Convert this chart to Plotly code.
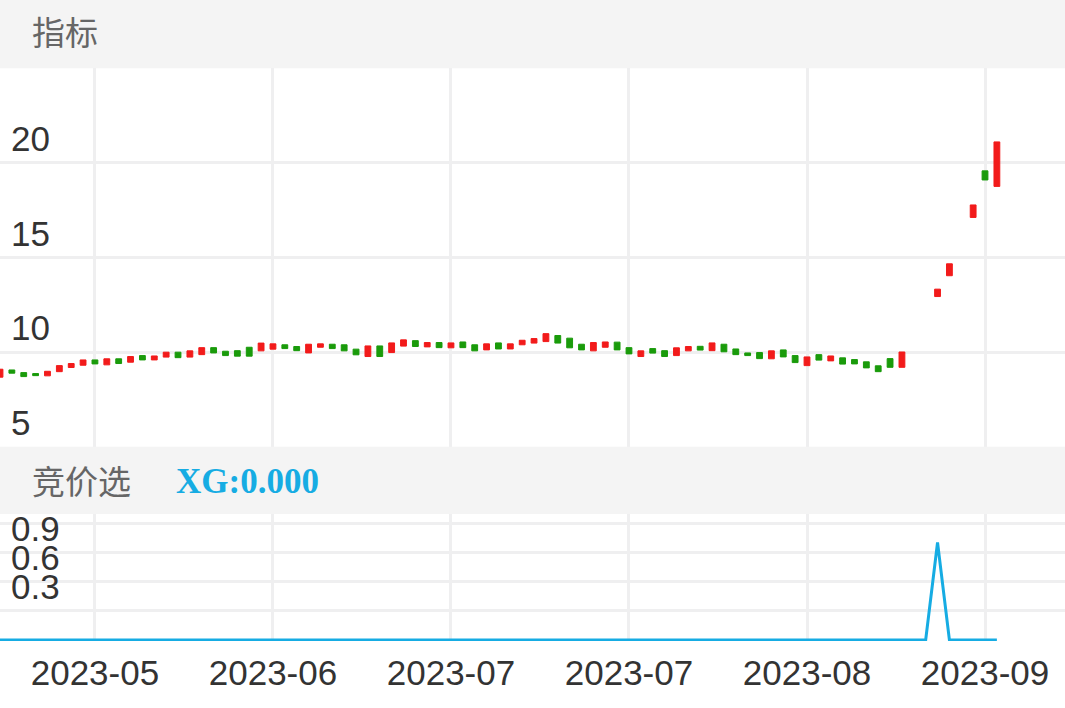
import plotly.graph_objects as go

# ---------------- data ----------------
dates = [
    "2023-05-08", "2023-05-09", "2023-05-10", "2023-05-11", "2023-05-12",
    "2023-05-15", "2023-05-16", "2023-05-17", "2023-05-18", "2023-05-19",
    "2023-05-22", "2023-05-23", "2023-05-24", "2023-05-25", "2023-05-26",
    "2023-05-29", "2023-05-30", "2023-05-31", "2023-06-01", "2023-06-02",
    "2023-06-05", "2023-06-06", "2023-06-07", "2023-06-08", "2023-06-09",
    "2023-06-12", "2023-06-13", "2023-06-14", "2023-06-15", "2023-06-16",
    "2023-06-19", "2023-06-20", "2023-06-21", "2023-06-26", "2023-06-27",
    "2023-06-28", "2023-06-29", "2023-06-30", "2023-07-03", "2023-07-04",
    "2023-07-05", "2023-07-06", "2023-07-07", "2023-07-10", "2023-07-11",
    "2023-07-12", "2023-07-13", "2023-07-14", "2023-07-17", "2023-07-18",
    "2023-07-19", "2023-07-20", "2023-07-21", "2023-07-24", "2023-07-25",
    "2023-07-26", "2023-07-27", "2023-07-28", "2023-07-31", "2023-08-01",
    "2023-08-02", "2023-08-03", "2023-08-04", "2023-08-07", "2023-08-08",
    "2023-08-09", "2023-08-10", "2023-08-11", "2023-08-14", "2023-08-15",
    "2023-08-16", "2023-08-17", "2023-08-18", "2023-08-21", "2023-08-22",
    "2023-08-23", "2023-08-24", "2023-08-25", "2023-08-28", "2023-08-29",
    "2023-08-30", "2023-08-31", "2023-09-01", "2023-09-04", "2023-09-05",
]

open_price = [
    8.68, 9.06, 8.92, 8.87, 8.75, 8.97, 9.19, 9.31, 9.59, 9.33,
    9.65, 9.47, 9.82, 9.59, 9.74, 10.00, 9.74, 9.87, 10.24, 10.05,
    10.08, 10.26, 10.07, 10.16, 10.39, 10.30, 9.96, 10.26, 10.42, 10.39,
    10.16, 9.77, 10.33, 9.98, 10.32, 10.61, 10.28, 10.51, 10.23, 10.54,
    10.39, 10.12, 10.49, 10.17, 10.39, 10.48, 10.56, 10.88, 10.74, 10.42,
    10.07, 10.26, 10.53, 10.24, 9.77, 10.19, 10.08, 9.82, 10.07, 10.31,
    10.08, 10.42, 10.17, 9.96, 9.98, 9.65, 10.12, 9.82, 9.29, 9.87,
    9.54, 9.70, 9.61, 9.49, 9.28, 9.66, 9.20, None, None, 12.94,
    14.04, None, 17.12, 19.58, 18.76,
]

close_price = [
    9.10, 8.89, 8.71, 8.76, 8.99, 9.29, 9.40, 9.59, 9.38, 9.65,
    9.40, 9.77, 9.59, 9.80, 10.00, 9.71, 10.07, 10.24, 9.96, 9.82,
    9.79, 9.79, 10.48, 10.44, 10.19, 10.08, 10.42, 10.44, 10.19, 10.07,
    9.86, 10.33, 9.77, 10.49, 10.65, 10.30, 10.51, 10.24, 10.49, 10.24,
    10.07, 10.44, 10.17, 10.44, 10.63, 10.72, 10.98, 10.48, 10.23, 10.12,
    10.51, 10.54, 10.12, 9.91, 10.07, 9.95, 9.77, 10.23, 10.30, 10.11,
    10.49, 10.02, 9.87, 9.82, 9.66, 10.07, 9.75, 9.45, 9.75, 9.58,
    9.80, 9.37, 9.38, 9.17, 8.97, 9.20, 10.01, None, None, 13.33,
    14.67, None, 17.78, 19.10, 21.11,
]

xg_values = [
    0, 0, 0, 0, 0, 0, 0, 0, 0, 0,
    0, 0, 0, 0, 0, 0, 0, 0, 0, 0,
    0, 0, 0, 0, 0, 0, 0, 0, 0, 0,
    0, 0, 0, 0, 0, 0, 0, 0, 0, 0,
    0, 0, 0, 0, 0, 0, 0, 0, 0, 0,
    0, 0, 0, 0, 0, 0, 0, 0, 0, 0,
    0, 0, 0, 0, 0, 0, 0, 0, 0, 0,
    0, 0, 0, 0, 0, 0, 0, 0, 0, 1,
    0, 0, 0, 0, 0,
]

tick_dates = ["2023-05-18", "2023-06-08", "2023-07-03", "2023-07-24", "2023-08-14", "2023-09-04"]
tick_labels = ["2023-05", "2023-06", "2023-07", "2023-07", "2023-08", "2023-09"]

main_ticks = [5, 10, 15, 20]
sub_ticks = [0, 0.3, 0.6, 0.9, 1.2]
sub_ticktext = ["", "0.3", "0.6", "0.9", ""]

# bodies only (no visible wicks)
high_price = [None if o is None else max(o, c) for o, c in zip(open_price, close_price)]
low_price = [None if o is None else min(o, c) for o, c in zip(open_price, close_price)]

# ---------------- style ----------------
RED = "#f21b1b"
GREEN = "#1a9b0b"
BLUE = "#16ace3"
GRID = "#efeff0"
BAND = "#f4f4f4"
TICKFONT = dict(family="Liberation Sans, Arial, sans-serif", size=35, color="#333333")

W, H = 1065, 708
PLOT_H = 641  # plot area height (top margin 0, bottom margin 67)


def py(px):
    return (PLOT_H - px) / PLOT_H


fig = go.Figure()

fig.add_trace(go.Candlestick(
    x=dates, open=open_price, high=high_price, low=low_price, close=close_price,
    increasing=dict(line=dict(color=RED, width=1), fillcolor=RED),
    decreasing=dict(line=dict(color=GREEN, width=1), fillcolor=GREEN),
    xaxis="x", yaxis="y", hoverinfo="skip",
))

fig.add_trace(go.Scatter(
    x=dates, y=xg_values, mode="lines",
    line=dict(color=BLUE, width=3),
    xaxis="x2", yaxis="y2", hoverinfo="skip",
))

common_x = dict(
    type="category", categoryorder="array", categoryarray=dates,
    range=[0, 89.74], tickmode="array", tickvals=tick_dates, ticktext=tick_labels,
    showgrid=True, gridcolor=GRID, gridwidth=3, zeroline=False, showline=False,
    ticks="", fixedrange=True,
)

common_y = dict(
    tickmode="array", ticklabelposition="inside", ticklabelshift=-24, ticklabelstandoff=8,
    tickfont=TICKFONT, showgrid=True, gridcolor=GRID, gridwidth=3,
    zeroline=False, showline=False, ticks="", fixedrange=True,
)

# lower panel: 0 at y=640px, 1.2 at y=523px -> 97.5 px per unit
SUB_TOP_PX = 498
sub_range_top = (640 - SUB_TOP_PX) / 97.5

fig.update_layout(
    width=W, height=H,
    margin=dict(l=0, r=0, t=0, b=H - PLOT_H),
    paper_bgcolor="white", plot_bgcolor="white",
    showlegend=False,
    template="none",
    font=dict(family="Liberation Sans, Arial, sans-serif", color="#333333"),
    xaxis=dict(domain=[0, 1], anchor="y", showticklabels=False,
               rangeslider=dict(visible=False), **common_x),
    xaxis2=dict(domain=[0, 1], anchor="y2", matches="x", showticklabels=True,
                tickfont=TICKFONT, ticklabelstandoff=8, **common_x),
    yaxis=dict(domain=[py(446.8), py(68.3)], range=[5, 25],
               tickvals=main_ticks, **common_y),
    yaxis2=dict(domain=[0, py(SUB_TOP_PX)], range=[-0.0103, sub_range_top],
                tickvals=sub_ticks, ticktext=sub_ticktext, **common_y),
    shapes=[
        dict(type="rect", xref="paper", yref="paper", x0=0, x1=1,
             y0=py(68.3), y1=1, fillcolor=BAND, line=dict(width=0), layer="below"),
        dict(type="rect", xref="paper", yref="paper", x0=0, x1=1,
             y0=py(514), y1=py(446.8), fillcolor=BAND, line=dict(width=0), layer="above"),
    ],
    annotations=[
        dict(text="指标", xref="paper", yref="paper", x=30 / W, y=py(31),
             xanchor="left", yanchor="middle", showarrow=False,
             font=dict(family="Noto Sans CJK SC", size=33, color="#666666")),
        dict(text="竞价选", xref="paper", yref="paper", x=30 / W, y=py(480),
             xanchor="left", yanchor="middle", showarrow=False,
             font=dict(family="Noto Sans CJK SC", size=33, color="#666666")),
        dict(text="<b>XG:0.000</b>", xref="paper", yref="paper", x=174 / W, y=py(481),
             xanchor="left", yanchor="middle", showarrow=False,
             font=dict(family="Liberation Serif, Times New Roman, serif", size=35, color=BLUE)),
    ],
)

fig.write_html("out.html", config={"displayModeBar": False},
               post_script="document.body.style.margin='0';")
